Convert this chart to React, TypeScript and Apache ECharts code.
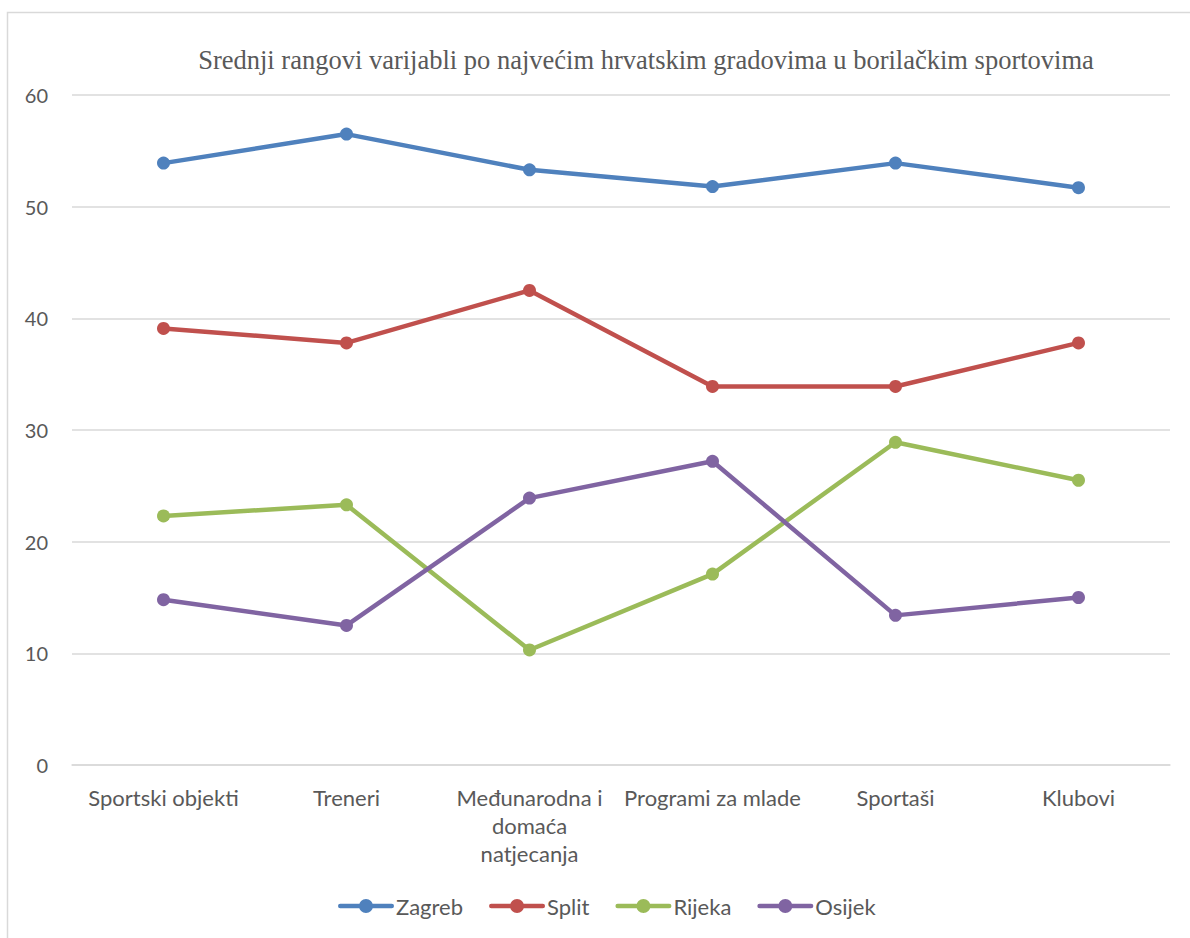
import React, { useEffect, useRef } from "react";
import * as echarts from "echarts";

const categories = [
  "Sportski objekti",
  "Treneri",
  "Međunarodna i\ndomaća\nnatjecanja",
  "Programi za mlade",
  "Sportaši",
  "Klubovi",
];
const zagreb = [53.9, 56.5, 53.3, 51.8, 53.9, 51.7];
const split = [39.1, 37.8, 42.5, 33.9, 33.9, 37.8];
const rijeka = [22.3, 23.3, 10.3, 17.1, 28.9, 25.5];
const osijek = [14.8, 12.5, 23.9, 27.2, 13.4, 15.0];
const yTicks = [0, 10, 20, 30, 40, 50, 60];

const seriesDefs = [
  { name: "Zagreb", data: zagreb, color: "#4F81BD" },
  { name: "Split", data: split, color: "#C0504D" },
  { name: "Rijeka", data: rijeka, color: "#9BBB59" },
  { name: "Osijek", data: osijek, color: "#8064A2" },
];

const legendIcon =
  "path://M2.25,4.75 L53.75,4.75 A2.25,2.25 0 1,1 53.75,9.25 L2.25,9.25 A2.25,2.25 0 1,1 2.25,4.75 Z M21,7 A7,7 0 1,1 35,7 A7,7 0 1,1 21,7 Z M0,0 M56,14";

export default function App() {
  const ref = useRef<HTMLDivElement>(null);
  useEffect(() => {
    if (!ref.current) return;
    const chart = echarts.init(ref.current, undefined, { renderer: "svg" });
    const font = "Lato, 'Open Sans', sans-serif";
    chart.setOption({
      animation: false,
      backgroundColor: "#ffffff",
      title: {
        text: "Srednji rangovi varijabli po najvećim hrvatskim gradovima u borilačkim sportovima",
        left: 641,
        top: 41,
        textAlign: "center",
        textStyle: {
          fontFamily: "'Liberation Serif', 'Times New Roman', serif",
          fontSize: 26.5,
          fontWeight: "normal",
          color: "#595959",
        },
      },
      graphic: [
        {
          type: "rect",
          shape: { x: 7.5, y: 12.5, width: 1200, height: 1000 },
          style: { fill: "none", stroke: "#D9D9D9", lineWidth: 1.5 },
          silent: true,
        },
      ],
      legend: {
        bottom: 16,
        left: 333,
        itemWidth: 56,
        itemHeight: 14,
        itemGap: 26,
        icon: legendIcon,
        textStyle: { fontFamily: font, fontSize: 22, color: "#595959", padding: [0, 0, 0, -3] },
        data: seriesDefs.map((s) => s.name),
      },
      grid: { left: 72, right: 20, top: 95, bottom: 173, containLabel: false },
      xAxis: {
        type: "category",
        data: categories,
        boundaryGap: true,
        axisLine: { lineStyle: { color: "#D9D9D9", width: 1.5 } },
        axisTick: { show: false },
        axisLabel: {
          fontFamily: font,
          fontSize: 22,
          color: "#595959",
          margin: 18,
          lineHeight: 28,
          interval: 0,
        },
      },
      yAxis: {
        type: "value",
        min: yTicks[0],
        max: yTicks[yTicks.length - 1],
        interval: 10,
        axisLine: { show: false },
        axisTick: { show: false },
        splitLine: { lineStyle: { color: "#D9D9D9", width: 1.5 } },
        axisLabel: {
          fontFamily: font,
          fontSize: 20,
          color: "#595959",
          margin: 24,
        },
      },
      series: seriesDefs.map((s) => ({
        name: s.name,
        type: "line",
        data: s.data,
        symbol: "circle",
        symbolSize: 13,
        lineStyle: { width: 4.5, color: s.color },
        itemStyle: { color: s.color },
      })),
    });
    return () => chart.dispose();
  }, []);
  return (
    <div
      ref={ref}
      style={{ position: "fixed", left: 0, top: 0, width: 1190, height: 938 }}
    />
  );
}
